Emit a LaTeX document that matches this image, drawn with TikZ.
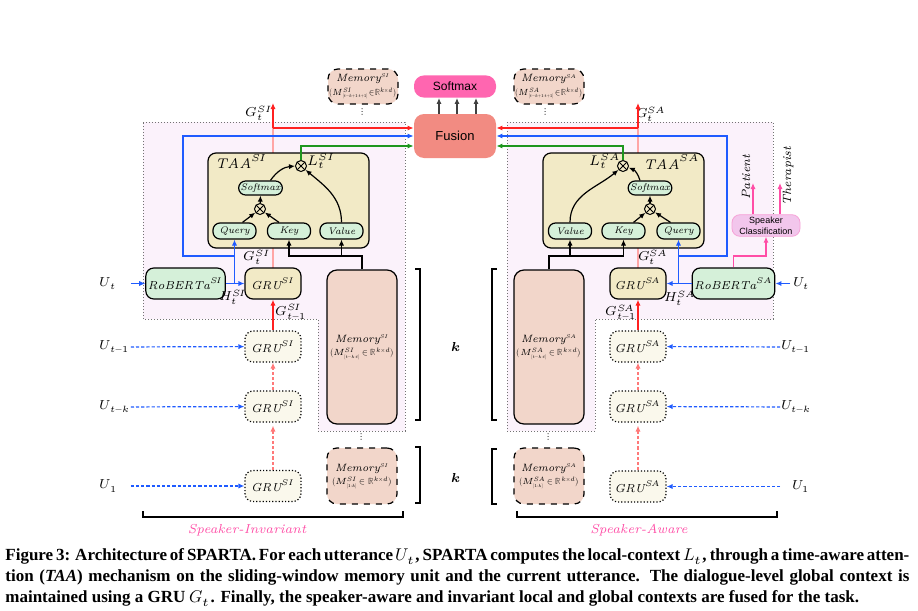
\documentclass[tikz,border=0pt]{standalone}
\usepackage{amsmath}
\usepackage{graphicx}
\usepackage{fontspec}
\usepackage{unicode-math}
\setmathfont{Latin Modern Math}
\usetikzlibrary{arrows.meta}

\newfontfamily\sansf{Liberation Sans}
\newfontfamily\capf{Liberation Serif}

% second line of a memory cell, squeezed to the cell
\newcommand{\memline}[2][32pt]{\resizebox*{#1}{5.5pt}{$#2$}}

% colours of the figure
\definecolor{regioncol}{HTML}{FBF2FB}
\definecolor{taacol}{HTML}{F2EAC6}
\definecolor{grncol}{HTML}{D5F0D9}
\definecolor{memcol}{HTML}{F2D6CA}
\definecolor{fusecol}{HTML}{F28B82}
\definecolor{smaxcol}{HTML}{FF66B0}
\definecolor{pastcol}{HTML}{FAF8EC}
\definecolor{spkcol}{HTML}{F2C6EC}
\definecolor{blu}{HTML}{1F5BFF}
\definecolor{rd}{HTML}{FF2020}
\definecolor{grn}{HTML}{1E961E}
\definecolor{pnk}{HTML}{FF4DA6}

\tikzset{
  blk/.style={draw, rounded corners=4pt, line width=0.6pt, inner sep=1pt, align=center},
  top/.style={rounded corners=5pt, minimum width=41pt, font=\sansf\fontsize{6}{7}\selectfont},
  taa/.style={blk, fill=taacol, minimum width=80.5pt, minimum height=47.5pt},
  qkv/.style={blk, fill=grncol, rounded corners=3.5pt, minimum width=21.5pt, minimum height=8pt, font=\fontsize{4.8}{5}\selectfont\itshape},
  gru/.style={blk, fill=taacol, minimum width=28pt, minimum height=15.5pt, font=\fontsize{5.8}{6}\selectfont},
  grupast/.style={gru, fill=pastcol, densely dotted},
  rob/.style={gru, fill=grncol, minimum width=35.5pt},
  mem/.style={blk, fill=memcol, rounded corners=5pt, minimum width=35pt, inner sep=0.5pt, font=\fontsize{5.3}{6.8}\selectfont},
  otim/.style={circle, draw, line width=0.5pt, minimum size=5.5pt, inner sep=0pt,
    path picture={\draw[line width=0.5pt] (path picture bounding box.north west) -- (path picture bounding box.south east)
      (path picture bounding box.north east) -- (path picture bounding box.south west);}},
  lbl/.style={inner sep=0.5pt, font=\fontsize{6.5}{7}\selectfont},
  labL/.style={anchor=west, text width=15pt, align=left, inner sep=0.25pt},
  labR/.style={anchor=east, text width=14pt, align=right, inner sep=0.5pt},
  wire/.style={line width=0.6pt},
  dots/.style={dash pattern=on 1.6pt off 1pt},
  region/.style={draw=black!55, densely dotted, fill=regioncol, line width=0.5pt},
  capline/.style={anchor=base west, inner sep=0pt, font=\capf\bfseries\fontsize{8.5}{10}\selectfont},
}

\begin{document}
\begin{tikzpicture}[x=0.5pt, y=-0.5pt, >={Latex[length=3pt,width=2.6pt]}, font=\fontsize{6.5}{7.5}\selectfont]
  \useasboundingbox (0,0) rectangle (918,611);

  % Regions of the current step
  \draw[region] (143,122) -- (405,122) -- (405,431) -- (318,431) -- (318,319) -- (143,319) -- cycle;
  \draw[region] (507,122) -- (773,122) -- (773,319) -- (595,319) -- (595,431) -- (507,431) -- cycle;

  % Rows and free ends of the wires
  \path
  (0,146) coordinate(grow)
  (0,256) coordinate(mrow)
  (273,128) coordinate(redL)
  (273,103) coordinate(tipL)
  (638,128) coordinate(redR)
  (638,103) coordinate(tipR)
  (183,136) coordinate(bluL)
  (727,136) coordinate(bluR)
  (753,183) coordinate(patTip)
  (780,183) coordinate(therTip);

  % Fusion and output
  \node[top, fill=smaxcol, minimum height=10.5pt] (smax) at (455,86.5) {Softmax};
  \node[top, fill=fusecol, minimum height=22pt, font=\sansf\fontsize{6.5}{7}\selectfont] (fuse) at (455,136) {Fusion};
  \foreach \dx in {-16,2,21}
    \draw[->, wire, black!75] ([xshift=\dx*0.5pt]fuse.north) -- ([xshift=\dx*0.5pt]smax.south);

  % Memory of the next window
  \node[mem, dashed, minimum height=17.5pt] (memTL) at (363,86.5) {\textit{Memory}$^{\scriptscriptstyle SI}$\\\memline[33pt]{(M^{SI}_{\scriptscriptstyle[t-k+1:t+1]}\!\in\!\mathbb{R}^{k\times d})}};
  \node[mem, dashed, minimum height=17.5pt] (memTR) at (549,86.5) {\textit{Memory}$^{\scriptscriptstyle SA}$\\\memline[33pt]{(M^{SA}_{\scriptscriptstyle[t-k+1:t+1]}\!\in\!\mathbb{R}^{k\times d})}};
  \node[lbl, font=\fontsize{5}{5}\selectfont] (dotTL) at (363,112) {$\vdots$};
  \node[lbl, font=\fontsize{5}{5}\selectfont] (dotTR) at (546,112) {$\vdots$};

  % ---------------- Speaker-Invariant ----------------
  \draw[rd!40, wire] (redL) -- (273,248);
  \draw[rd!40, wire] (273,248) -- (273,268);
  \node[taa] (taaL) at (288.5,200.5) {};
  \node[lbl, anchor=north west, font=\fontsize{7}{8}\selectfont] (taaLabL) at (214,153) {$\mathit{TAA}^{SI}$};
  \node[qkv] (qL) at (234.5,231) {Query};
  \node[qkv] (kL) at (289,231) {Key};
  \node[qkv] (vL) at (341.5,231) {Value};
  \node[qkv, minimum height=7pt] (smL) at (260.5,188) {Softmax};
  \node[otim] (otL1) at (260,209) {};
  \node[otim] (otL2) at (301,166) {};
  \node[lbl, font=\fontsize{7}{8}\selectfont] (lL) at (321,161) {$L_t^{SI}$};

  \draw[->, wire] ([xshift=4pt]qL.north) -- (otL1);
  \draw[->, wire] ([xshift=-5pt]kL.north) -- (otL1);
  \draw[->, wire] (otL1) -- (smL.south);
  \draw[->, wire] ([xshift=5pt]smL.north) to[bend left=25] (otL2);
  \draw[->, wire] (vL.north) to[out=90, in=-40] (otL2);

  \node[rob] (robL) at (185.5,283.5) {$\mathit{RoBERTa}^{SI}$};
  \node[gru] (gruL) at (273,283.5) {$\mathit{GRU}^{SI}$};
  \node[grupast] (gpL) at (273,346.5) {$\mathit{GRU}^{SI}$};
  \node[grupast] (gkL) at (273,406.5) {$\mathit{GRU}^{SI}$};
  \node[grupast] (g1L) at (273,486) {$\mathit{GRU}^{SI}$};
  \node[mem, minimum height=77pt] (memL) at (362,347) {\textit{Memory}$^{\scriptscriptstyle SI}$\\\memline{(M^{SI}_{\scriptscriptstyle[t-k:t]}\in\mathbb{R}^{k\times d})}};
  \node[mem, dashed, minimum height=28pt] (memBL) at (362,476) {\textit{Memory}$^{\scriptscriptstyle SI}$\\\memline[30pt]{(M^{SI}_{\scriptscriptstyle[1:k]}\in\mathbb{R}^{k\times d})}};
  \node[lbl, font=\fontsize{5}{5}\selectfont] (dotL) at (362,437) {$\vdots$};

  \node[labL] (utL) at (99,283.5) {$U_t$};
  \node[labL] (ut1L) at (99,347) {$U_{t-1}$};
  \node[labL] (utkL) at (99,407) {$U_{t-k}$};
  \node[labL] (u1L) at (99,486) {$U_1$};

  \node[lbl] (gtL) at (259,113) {$G_t^{SI}$};
  \node[lbl] (gL) at (257,257) {$G_t^{SI}$};
  \node[lbl] (hL) at (233,297) {$H_t^{SI}$};
  \node[lbl] (gpLab) at (291,312) {$G_{t-1}^{SI}$};

  % wires of the invariant side
  \draw[->, wire, blu] (utL) -- (robL);
  \draw[->, wire, blu] (robL) -- (gruL);
  \draw[->, wire, blu] (qL.south |- robL.east) -- (qL.south);
  \draw[->, wire, blu] (qL.south |- mrow) -| (bluL) -- (bluL -| fuse.west);
  \draw[->, wire, rd] (redL) -- (tipL);
  \draw[->, wire, rd] (redL) -- (redL -| fuse.west);
  \draw[->, wire, grn] (otL2.north) |- (fuse.west |- grow);
  \draw[->, line width=0.9pt] (memL.north) |- (kL.south |- mrow) -- (kL.south);
  \draw[->, line width=0.9pt] (vL.south |- mrow) -- (vL.south);

  \draw[->, wire, rd] (gpL) -- (gruL);
  \draw[->, wire, rd!60, dots] (gkL) -- (gpL);
  \draw[->, wire, rd!60, dots] (g1L.north) -- ([yshift=-1.5pt]gkL.south);
  \draw[->, wire, blu, dots] (ut1L) -- (gpL);
  \draw[->, wire, blu, dots] (utkL) -- (gkL);
  \draw[->, wire, blu, dots] (u1L) -- (g1L);

  % ---------------- Speaker-Aware ----------------
  \draw[rd!40, wire] (redR) -- (638,248);
  \draw[rd!40, wire] (638,248) -- (638,268);
  \node[taa] (taaR) at (623.5,200.5) {};
  \node[lbl, anchor=north east, font=\fontsize{7}{8}\selectfont] (taaLabR) at (701,153) {$\mathit{TAA}^{SA}$};
  \node[qkv] (vR) at (570,231) {Value};
  \node[qkv] (kR) at (623.5,231) {Key};
  \node[qkv] (qR) at (678.5,231) {Query};
  \node[qkv, minimum height=7pt] (smR) at (650,188) {Softmax};
  \node[otim] (otR1) at (650,209) {};
  \node[otim] (otR2) at (623,166) {};
  \node[lbl, font=\fontsize{7}{8}\selectfont] (lR) at (605,161) {$L_t^{SA}$};

  \draw[->, wire] ([xshift=-4pt]qR.north) -- (otR1);
  \draw[->, wire] ([xshift=5pt]kR.north) -- (otR1);
  \draw[->, wire] (otR1) -- (smR.south);
  \draw[->, wire] ([xshift=-5pt]smR.north) to[bend right=25] (otR2);
  \draw[->, wire] (vR.north) to[out=90, in=-140] (otR2);

  \node[rob] (robR) at (733.5,283.5) {$\mathit{RoBERTa}^{SA}$};
  \node[gru] (gruR) at (638,283.5) {$\mathit{GRU}^{SA}$};
  \node[grupast] (gpR) at (638,346.5) {$\mathit{GRU}^{SA}$};
  \node[grupast] (gkR) at (638,406.5) {$\mathit{GRU}^{SA}$};
  \node[grupast] (g1R) at (638,486.5) {$\mathit{GRU}^{SA}$};
  \node[mem, minimum height=77pt] (memR) at (549,347) {\textit{Memory}$^{\scriptscriptstyle SA}$\\\memline{(M^{SA}_{\scriptscriptstyle[t-k:t]}\in\mathbb{R}^{k\times d})}};
  \node[mem, dashed, minimum height=28pt] (memBR) at (549,476) {\textit{Memory}$^{\scriptscriptstyle SA}$\\\memline[30pt]{(M^{SA}_{\scriptscriptstyle[1:k]}\in\mathbb{R}^{k\times d})}};
  \node[lbl, font=\fontsize{5}{5}\selectfont] (dotR) at (549,437) {$\vdots$};

  \node[labR] (utR) at (811,283.5) {$U_t$};
  \node[labR] (ut1R) at (811,347) {$U_{t-1}$};
  \node[labR] (utkR) at (811,407) {$U_{t-k}$};
  \node[labR] (u1R) at (811,486.5) {$U_1$};

  \node[lbl] (gtR) at (651,114) {$G_t^{SA}$};
  \node[lbl] (gR) at (653,257) {$G_t^{SA}$};
  \node[lbl] (hR) at (680,298) {$H_t^{SA}$};
  \node[lbl] (gpRab) at (621,312) {$G_{t-1}^{SA}$};

  \node[blk, draw=spkcol!70!pnk, line width=0.4pt, fill=spkcol, rounded corners=4pt, minimum width=34pt, minimum height=10.5pt,
    font=\sansf\fontsize{4.5}{5.5}\selectfont] (spk) at (766,225.5) {Speaker\\Classification};
  \node[lbl, rotate=90, font=\fontsize{6}{7}\selectfont\itshape] (patient) at (746,177) {Patient};
  \node[lbl, rotate=90, font=\fontsize{6}{7}\selectfont\itshape] (therapist) at (788,176) {Therapist};

  % wires of the aware side
  \draw[->, wire, blu, shorten <=5pt] (utR) -- (robR);
  \draw[->, wire, blu] (robR) -- (gruR);
  \draw[->, wire, blu] (qR.south |- robR.west) -- (qR.south);
  \draw[->, wire, blu] (qR.south |- mrow) -| (bluR) -- (bluR -| fuse.east);
  \draw[->, wire, rd] (redR) -- (tipR);
  \draw[->, wire, rd] (redR) -- (redR -| fuse.east);
  \draw[->, wire, grn] (otR2.north) |- (fuse.east |- grow);
  \draw[->, line width=0.9pt] (memR.north) |- (kR.south |- mrow) -- (kR.south);
  \draw[->, line width=0.9pt] (vR.south |- mrow) -- (vR.south);
  \draw[->, wire, pnk] (robR.north) |- (spk.south |- mrow) -- (spk.south);
  \draw[->, wire, pnk] (patTip |- spk.north) -- (patTip);
  \draw[->, wire, pnk] (therTip |- spk.north) -- (therTip);

  \draw[->, wire, rd] (gpR) -- (gruR);
  \draw[->, wire, rd!60, dots] (gkR) -- (gpR);
  \draw[->, wire, rd!60, dots] (g1R.north) -- ([yshift=-1.5pt]gkR.south);
  \draw[->, wire, blu, dots] (ut1R) -- (gpR);
  \draw[->, wire, blu, dots] (utkR) -- (gkR);
  \draw[->, wire, blu, dots] (u1R) -- (g1R);

  % Window brackets
  \draw[wire] (415,269) -- (420,269) -- (420,420) -- (415,420);
  \draw[wire] (415,447) -- (420,447) -- (420,503) -- (415,503);
  \draw[wire] (497,269) -- (492,269) -- (492,420) -- (497,420);
  \draw[wire] (497,449) -- (492,449) -- (492,504) -- (497,504);
  \node[lbl] (kTop) at (456,347) {$\symbfit{k}$};
  \node[lbl] (kBot) at (456,478) {$\symbfit{k}$};

  % Side braces
  \draw[wire] (143,511) -- (143,517) -- (403,517) -- (403,511);
  \draw[wire] (517,511) -- (517,517) -- (777,517) -- (777,511);
  \node[lbl, text=pnk, font=\fontsize{6.5}{7}\selectfont\itshape] (sinv) at (247,530) {Speaker-Invariant};
  \node[lbl, text=pnk, font=\fontsize{6.5}{7}\selectfont\itshape] (saw) at (639,530) {Speaker-Aware};

  % Caption
  \node[capline] (cap1) at (5,560) {\makebox[452pt][s]{Figure 3: Architecture of SPARTA. For each utterance $U_t$, SPARTA computes the local-context $L_t$, through a time-aware atten-}};
  \node[capline] (cap2) at (5,581) {\makebox[452pt][s]{tion (\textit{TAA}) mechanism on the sliding-window memory unit and the current utterance. The dialogue-level global context is}};
  \node[capline] (cap3) at (5,602) {maintained using a GRU $G_t$. Finally, the speaker-aware and invariant local and global contexts are fused for the task.};
\end{tikzpicture}
\end{document}
